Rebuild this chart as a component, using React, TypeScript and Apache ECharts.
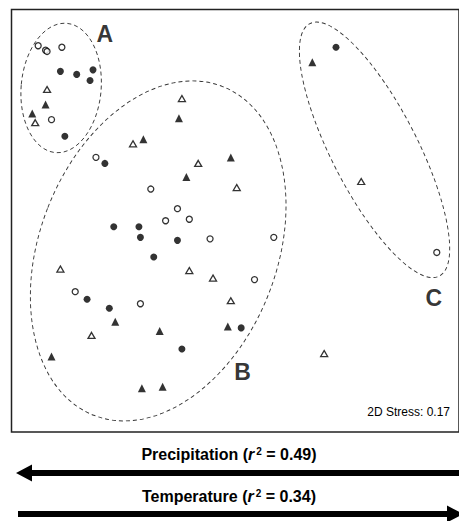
import React, { useEffect, useRef } from "react";
import * as echarts from "echarts";

// NMDS coordinates [axis1, axis2]
const openCircles: number[][] = [
  [-1.32, 1.16], [-1.27, 1.13], [-1.26, 1.122], [-1.16, 1.15], [-1.23, 0.67],
  [-0.93, 0.42], [-0.56, 0.21], [-0.38, 0.08], [-0.46, 0.0], [-0.3, 0.01],
  [-0.16, -0.12], [0.27, -0.11], [-1.07, -0.47], [-0.63, -0.55], [0.14, -0.39],
  [1.37, -0.21],
];
const filledCircles: number[][] = [
  [-1.17, 0.99], [-1.06, 0.97], [-0.95, 1.0], [-0.97, 0.93], [-1.14, 0.56],
  [-0.87, 0.38], [-0.81, -0.04], [-0.64, -0.04], [-0.63, -0.11], [-0.38, -0.13],
  [-0.54, -0.24], [-0.99, -0.52], [-0.84, -0.58], [-0.35, -0.85], [0.05, -0.71],
  [0.69, 1.15],
];
const openTriangles: number[][] = [
  [-1.26, 0.87], [-1.34, 0.65], [-0.35, 0.81], [-0.68, 0.51], [-0.24, 0.38],
  [0.02, 0.22], [-1.17, -0.32], [-0.3, -0.33], [-0.14, -0.38], [-0.02, -0.53],
  [-0.96, -0.76], [0.61, -0.88], [0.86, 0.26],
];
const filledTriangles: number[][] = [
  [-1.27, 0.77], [-1.36, 0.71], [-0.37, 0.68], [-0.61, 0.54], [-0.02, 0.42],
  [-0.32, 0.29], [-0.8, -0.67], [-0.5, -0.73], [-0.04, -0.7], [-1.23, -0.9],
  [-0.62, -1.11], [-0.48, -1.1], [0.53, 1.05],
];
// group ellipses: [centerX, centerY, semiMajor, semiMinor, rotationDeg]
const groupEllipses: number[][] = [
  [-1.165, 0.88, 0.43, 0.27, -5],
  [-0.51, -0.2, 1.17, 0.8, -21.4],
  [0.95, 0.47, 0.94, 0.29, 27.1],
];
const groupLabels: (string | number)[][] = [
  ["A", -0.87, 1.24],
  ["B", 0.06, -1.0],
  ["C", 1.35, -0.51],
];
const stressText = "2D Stress: 0.17";
const precipitationR2 = "0.49";
const temperatureR2 = "0.34";

const FONT = "'Liberation Sans', Arial, Helvetica, sans-serif";

function richLabel(name: string, value: string) {
  return {
    text: `{b|${name} (}{i|r}{s|2}{b| = ${value})}`,
    rich: {
      b: { fontFamily: FONT, fontSize: 16, fontWeight: "bold", fill: "#000" },
      i: { fontFamily: FONT, fontSize: 16, fontWeight: "bold", fontStyle: "italic", fill: "#000" },
      s: { fontFamily: FONT, fontSize: 10, fontWeight: "bold", fill: "#000", verticalAlign: "top", padding: [0, 0, 0, 2] },
    },
  };
}

export default function App() {
  const ref = useRef<HTMLDivElement>(null);
  useEffect(() => {
    if (!ref.current) return;
    const chart = echarts.init(ref.current, undefined, { renderer: "svg" });
    chart.setOption({
      animation: false,
      backgroundColor: "#fff",
      grid: {
        left: 11.5,
        top: 9.5,
        width: 451,
        height: 422.5,
        show: true,
        borderColor: "#222",
        borderWidth: 1.5,
        backgroundColor: "transparent",
      },
      xAxis: { type: "value", min: -1.5, max: 1.52, show: false },
      yAxis: { type: "value", min: -1.4, max: 1.4, show: false },
      series: [
        {
          type: "custom",
          clip: false,
          silent: true,
          encode: { x: 0, y: 1 },
          data: groupEllipses,
          renderItem: (_params: any, api: any) => {
            const c = api.coord([api.value(0), api.value(1)]);
            const s = api.size([1, 1]);
            return {
              type: "ellipse",
              x: c[0],
              y: c[1],
              rotation: (api.value(4) * Math.PI) / 180,
              shape: { cx: 0, cy: 0, rx: api.value(3) * s[0], ry: api.value(2) * s[1] },
              style: { fill: "none", stroke: "#333", lineWidth: 0.9, lineDash: [4, 3] },
            };
          },
        },
        {
          type: "scatter",
          data: openCircles,
          symbol: "circle",
          symbolSize: 6,
          itemStyle: { color: "#fff", borderColor: "#000", borderWidth: 1.3 },
          silent: true,
        },
        {
          type: "scatter",
          data: filledCircles,
          symbol: "circle",
          symbolSize: 7,
          itemStyle: { color: "#000" },
          silent: true,
        },
        {
          type: "scatter",
          data: openTriangles,
          symbol: "triangle",
          symbolSize: [7, 6],
          itemStyle: { color: "#fff", borderColor: "#000", borderWidth: 1.3 },
          silent: true,
        },
        {
          type: "scatter",
          data: filledTriangles,
          symbol: "triangle",
          symbolSize: [8, 8],
          itemStyle: { color: "#000" },
          silent: true,
        },
        {
          type: "scatter",
          data: groupLabels.map((g) => ({ name: g[0], value: [g[1], g[2]] })),
          symbolSize: 0,
          silent: true,
          label: {
            show: true,
            position: "inside",
            formatter: "{b}",
            fontFamily: FONT,
            fontSize: 23,
            fontWeight: "bold",
            color: "#000",
          },
        },
      ],
      graphic: [
        {
          type: "text",
          style: {
            text: stressText,
            x: 450,
            y: 412,
            align: "right",
            verticalAlign: "middle",
            fontFamily: FONT,
            fontSize: 12,
            fill: "#000",
          },
        },
        {
          type: "text",
          style: {
            ...richLabel("Precipitation", precipitationR2),
            x: 229,
            y: 454,
            align: "center",
            verticalAlign: "middle",
          },
        },
        {
          type: "polygon",
          shape: {
            points: [
              [16, 473], [32, 464.5], [32, 470], [460, 470], [460, 476], [32, 476], [32, 481.5],
            ],
          },
          style: { fill: "#000" },
        },
        {
          type: "text",
          style: {
            ...richLabel("Temperature", temperatureR2),
            x: 229,
            y: 496,
            align: "center",
            verticalAlign: "middle",
          },
        },
        {
          type: "polygon",
          shape: {
            points: [
              [18, 511], [447, 511], [447, 505.5], [463, 514], [447, 522.5], [447, 517], [18, 517],
            ],
          },
          style: { fill: "#000" },
        },
      ],
    });
    return () => chart.dispose();
  }, []);
  return (
    <div
      ref={ref}
      style={{ position: "fixed", left: 0, top: 0, width: 459, height: 521, background: "#fff" }}
    />
  );
}
